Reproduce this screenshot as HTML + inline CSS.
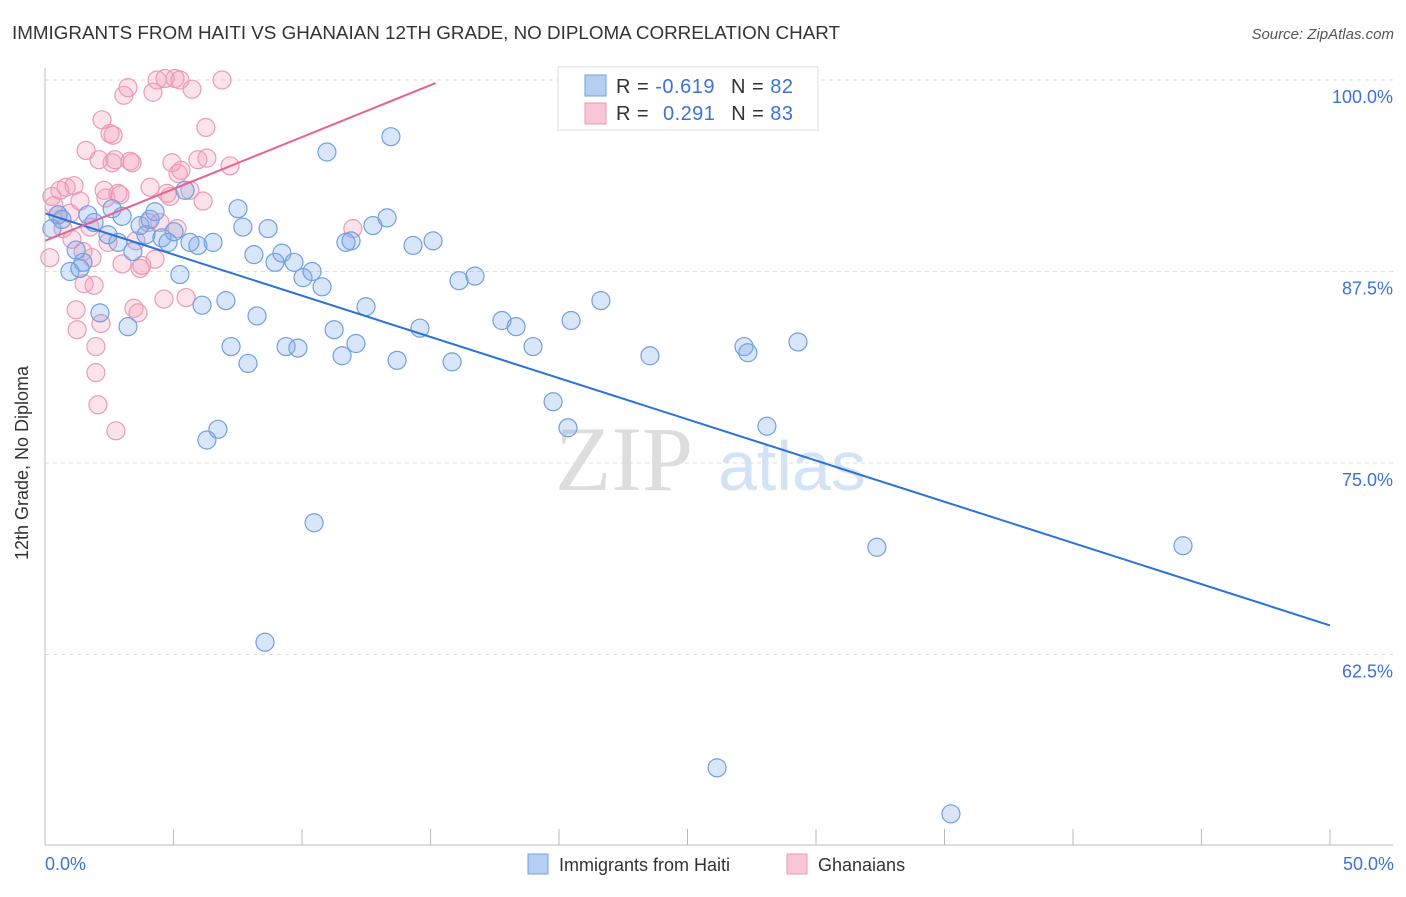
<!DOCTYPE html>
<html><head><meta charset="utf-8"><style>
body{margin:0;background:#fff;font-family:"Liberation Sans",sans-serif}
</style></head><body>
<svg id="chart" width="1406" height="892" xmlns="http://www.w3.org/2000/svg">
<text x="12" y="39" font-size="18" fill="#333" textLength="828" lengthAdjust="spacingAndGlyphs">IMMIGRANTS FROM HAITI VS GHANAIAN 12TH GRADE, NO DIPLOMA CORRELATION CHART</text>
<text x="1394" y="39" font-size="15" fill="#555" font-style="italic" text-anchor="end">Source: ZipAtlas.com</text>
<g id="grid"></g>
<g>
<text x="555" y="490" font-size="92" fill="#ddd" font-family="Liberation Serif,serif">ZIP</text>
<text x="718" y="490" font-size="70" fill="#d4e2f5">atlas</text>
</g>
<g id="pts"></g>
<g id="lines"></g>
<line x1="45" y1="68" x2="45" y2="845" stroke="#bbb"/>
<line x1="45" y1="845" x2="1393" y2="845" stroke="#bbb"/>
<text x="20" y="455" font-size="18" fill="#333" text-anchor="middle" transform="rotate(-90 28 455)">12th Grade, No Diploma</text>
<text x="45" y="870" font-size="18" fill="#3b73d4">0.0%</text>
<text x="1394" y="870" font-size="18" fill="#3b73d4" text-anchor="end">50.0%</text>
<g>
<rect x="558" y="67" width="260" height="63" fill="#fff" stroke="#ddd"/>
<rect x="585" y="75" width="21" height="21" fill="#b5cff2" stroke="#6fa0e0"/>
<rect x="585" y="103" width="21" height="21" fill="#f8c6d6" stroke="#eb9ab5"/>
<text x="616" y="93" font-size="20" fill="#333" textLength="177" lengthAdjust="spacing">R = <tspan fill="#3b73d4">-0.619</tspan>   <tspan dx="10">N = </tspan><tspan fill="#3b73d4">82</tspan></text>
<text x="616" y="120" font-size="20" fill="#333" textLength="177" lengthAdjust="spacing">R = <tspan fill="#3b73d4" dx="8">0.291</tspan>   <tspan dx="10">N = </tspan><tspan fill="#3b73d4">83</tspan></text>
</g>
<g>
<rect x="528" y="854" width="20" height="20" fill="#b5cff2" stroke="#6fa0e0"/>
<text x="559" y="871" font-size="18" fill="#333">Immigrants from Haiti</text>
<rect x="787" y="854" width="20" height="20" fill="#f8c6d6" stroke="#eb9ab5"/>
<text x="818" y="871" font-size="18" fill="#333">Ghanaians</text>
</g>
</svg>
<script>
const yTicks=[100,87.5,75,62.5];
const yTickLabels=["100.0%","87.5%","75.0%","62.5%"];
const xTicks=[0,5,10,15,20,25,30,35,40,45,50];
const haitiX=[.27,.51,.66,.97,1.36,1.48,1.21,1.67,1.91,2.14,2.45,2.61,2.84,3.0,3.23,3.42,3.7,3.93,4.09,4.28,4.55,4.79,5.02,5.25,5.45,5.64,5.95,6.11,6.3,6.54,6.73,7.04,7.24,7.51,7.7,7.9,8.13,8.25,8.68,8.95,9.22,9.38,9.69,9.84,10.04,10.39,10.47,10.78,8.56,10.97,11.25,11.56,11.71,11.91,12.1,12.49,12.76,13.31,13.46,13.7,14.32,14.59,15.1,15.84,16.11,16.73,17.78,18.33,18.99,19.77,20.35,20.47,21.63,23.54,26.15,27.2,27.35,28.09,29.3,32.37,35.25,44.28];
const haitiY=[90.3,91.2,90.9,87.5,87.7,88.1,88.9,91.2,90.7,84.8,89.9,91.6,89.4,91.1,83.9,88.8,90.5,89.9,90.9,91.4,89.7,89.4,90.1,87.3,92.8,89.4,89.2,85.3,76.5,89.4,77.2,85.6,82.6,91.6,90.4,81.5,88.6,84.6,90.3,88.1,88.7,82.6,88.1,82.5,87.1,87.5,71.1,86.5,63.3,95.3,83.7,82.0,89.4,89.5,82.8,85.2,90.5,91.0,96.3,81.7,89.2,83.8,89.5,81.6,86.9,87.2,84.3,83.9,82.6,79.0,77.3,84.3,85.6,82.0,55.1,82.6,82.2,77.4,82.9,69.5,52.1,69.6];
const ghanaX=[.19,.27,.35,.51,.58,.7,.82,.97,1.05,1.13,1.21,1.25,1.36,1.48,1.52,1.6,1.75,1.83,1.91,1.98,1.98,2.06,2.1,2.18,2.22,2.3,2.37,2.45,2.53,2.61,2.65,2.72,2.76,2.84,2.92,3.0,3.07,3.23,3.31,3.39,3.46,3.54,3.62,3.7,3.77,4.01,4.09,4.2,4.28,4.36,4.47,4.63,4.67,4.75,4.86,4.94,5.06,5.14,5.18,5.25,5.29,5.49,5.64,5.72,5.95,6.15,6.26,6.3,6.89,7.2,11.98];
const ghanaY=[88.4,92.4,91.8,91.2,92.8,90.3,93.0,91.3,89.6,93.1,85.0,83.7,92.1,88.8,86.7,95.4,90.4,88.4,86.6,82.6,80.9,78.8,94.8,84.1,97.4,92.8,92.3,89.4,96.5,94.6,96.4,94.8,77.1,92.6,92.5,88.0,99.0,99.5,94.7,94.6,85.1,89.5,84.8,87.7,87.9,90.7,93.0,99.2,88.3,100.0,90.7,85.7,100.1,92.6,92.4,94.6,100.1,90.3,93.9,100.0,94.1,85.8,92.8,99.4,94.8,92.1,96.9,94.9,100.0,94.4,90.3];
const haitiTrend=[[0,91.3],[50,64.4]];
const ghanaTrend=[[0,89.5],[15.2,99.8]];
const NS="http://www.w3.org/2000/svg";
const sx=v=>45+v*25.7;
const sy=v=>80+(100-v)*15.32;
const grid=document.getElementById('grid');
const svg=document.getElementById('chart');
function mk(tag,attrs,parent){const e=document.createElementNS(NS,tag);for(const k in attrs)e.setAttribute(k,attrs[k]);parent.appendChild(e);return e;}
yTicks.forEach((t,i)=>{
 const l=mk('line',{x1:45,x2:1393,y1:sy(t),y2:sy(t),stroke:'#ddd','stroke-dasharray':'4,4'},grid);
 
 
 const tx=mk('text',{x:1393,y:sy(t)+23,'font-size':18,fill:'#3b73d4','text-anchor':'end'},svg);
 tx.textContent=yTickLabels[i];
 
 
});
xTicks.forEach(t=>{
 const l=mk('line',{x1:sx(t),x2:sx(t),y1:829,y2:845,stroke:'#bbb'},grid);
 
 
});
const pts=document.getElementById('pts');
ghanaX.forEach((x,i)=>{
 const c=mk('circle',{cx:sx(x),cy:sy(ghanaY[i]),r:9,fill:'rgba(242,160,188,0.3)',stroke:'#eb9ab5','stroke-width':1.2},pts);
 
 
});
haitiX.forEach((x,i)=>{
 const c=mk('circle',{cx:sx(x),cy:sy(haitiY[i]),r:9,fill:'rgba(130,170,235,0.3)',stroke:'#6fa0e0','stroke-width':1.2},pts);
 
 
});
const lines=document.getElementById('lines');
const hl=mk('line',{x1:sx(haitiTrend[0][0]),y1:sy(haitiTrend[0][1]),x2:sx(haitiTrend[1][0]),y2:sy(haitiTrend[1][1]),stroke:'#2a72d8','stroke-width':2},lines);


const gl=mk('line',{x1:sx(ghanaTrend[0][0]),y1:sy(ghanaTrend[0][1]),x2:sx(ghanaTrend[1][0]),y2:sy(ghanaTrend[1][1]),stroke:'#e8628f','stroke-width':2},lines);


</script>
</body></html>
